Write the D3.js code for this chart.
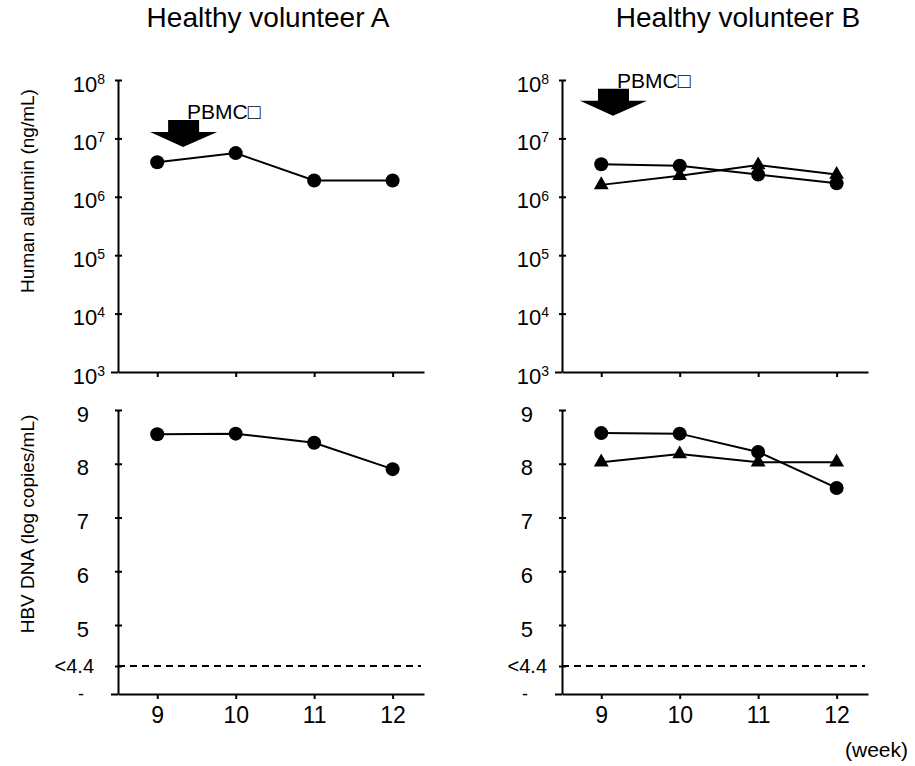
<!DOCTYPE html>
<html>
<head>
<meta charset="utf-8">
<script src="https://cdn.jsdelivr.net/npm/d3@7"></script>
<style>
  html, body { margin: 0; padding: 0; background: #fff; }
  svg { display: block; font-family: Arial, "Liberation Sans", sans-serif; }
</style>
</head>
<body>
<svg id="chart" width="915" height="766"></svg>
<script>
// Sampling weeks
const weeks = [9, 10, 11, 12];

// Human albumin (ng/mL), log scale
const albuminA_circle = [3.9e6, 5.6e6, 1.9e6, 1.9e6];
const albuminB_circle = [3.6e6, 3.4e6, 2.4e6, 1.7e6];
const albuminB_triangle = [1.6e6, 2.3e6, 3.5e6, 2.4e6];

// HBV DNA (log copies/mL)
const hbvA_circle = [8.55, 8.56, 8.39, 7.90];
const hbvB_circle = [8.57, 8.56, 8.22, 7.55];
const hbvB_triangle = [8.03, 8.18, 8.03, 8.03];

// Axis ticks
const albuminTicks = [3, 4, 5, 6, 7, 8];           // exponents of 10
const hbvTicks = [9, 8, 7, 6, 5, 4.4, 4.0];
const hbvTickLabels = ["9", "8", "7", "6", "5", "<4.4", "-"];
const detectionLimit = 4.4;

// PBMC infusion marker: [week, albumin level at arrow tip]
const pbmcA = [9.33, 7.1e6];
const pbmcB = [9.15, 2.45e7];

const svg = d3.select("#chart");

const panels = [
  { title: "Healthy volunteer A", left: 118, right: 424, titleX: 268,
    albumin: [{ type: "circle", values: albuminA_circle }],
    hbv: [{ type: "circle", values: hbvA_circle }],
    pbmc: pbmcA },
  { title: "Healthy volunteer B", left: 562, right: 868, titleX: 738,
    albumin: [{ type: "circle", values: albuminB_circle }, { type: "triangle", values: albuminB_triangle }],
    hbv: [{ type: "circle", values: hbvB_circle }, { type: "triangle", values: hbvB_triangle }],
    pbmc: pbmcB }
];

const topY = { top: 80, bottom: 372 };
const botY = { top: 410, bottom: 694 };

const tickFont = 22;

function drawMarkers(g, data, x, y) {
  const line = d3.line().x((d, i) => x(weeks[i])).y(d => y(d));
  data.forEach(s => {
    g.append("path").attr("d", line(s.values))
      .attr("fill", "none").attr("stroke", "#000").attr("stroke-width", 2);
  });
  data.forEach(s => {
    if (s.type === "circle") {
      g.selectAll(null).data(s.values).enter().append("circle")
        .attr("cx", (d, i) => x(weeks[i])).attr("cy", d => y(d))
        .attr("r", 7).attr("fill", "#000");
    } else {
      g.selectAll(null).data(s.values).enter().append("path")
        .attr("d", d3.symbol().type(d3.symbolTriangle).size(95))
        .attr("transform", (d, i) => `translate(${x(weeks[i])},${y(d)})`)
        .attr("fill", "#000");
    }
  });
}

panels.forEach((p, pi) => {
  const x = d3.scaleLinear().domain([8.5, 12.4]).range([p.left, p.right]);
  const yAlb = d3.scaleLog().domain([1e3, 1e8]).range([topY.bottom, topY.top]);
  const yHbv = d3.scaleLinear().domain([4.0, 4.4, 5, 9]).range([botY.bottom, 666, 625, botY.top]);

  // Title
  svg.append("text").attr("x", p.titleX).attr("y", 27)
    .attr("text-anchor", "middle").attr("font-size", 28).text(p.title);

  // ---- Albumin panel ----
  const gA = svg.append("g");
  const axL = gA.append("g").attr("transform", `translate(${p.left},0)`)
    .call(d3.axisLeft(yAlb).tickValues(albuminTicks.map(e => Math.pow(10, e)))
      .tickSizeInner(7).tickSizeOuter(0).tickFormat(""));
  axL.select(".domain").attr("stroke-width", 2);
  axL.selectAll(".tick line").attr("x2", d => d === 1e3 ? -7 : -3).attr("x1", d => d === 1e3 ? 0 : 4).attr("stroke-width", 2);
  axL.selectAll(".tick").each(function (d) {
    const t = d3.select(this).append("text")
      .attr("x", -13).attr("y", 0).attr("dy", "0.5em")
      .attr("text-anchor", "end").attr("fill", "#000")
      .attr("font-size", tickFont);
    t.append("tspan").text("10");
    t.append("tspan").attr("dy", "-0.55em").attr("font-size", 14).text(Math.round(Math.log10(d)));
  });

  const axB = gA.append("g").attr("transform", `translate(0,${topY.bottom})`)
    .call(d3.axisBottom(x).tickValues(weeks).tickSizeInner(5).tickSizeOuter(0).tickFormat(""));
  axB.select(".domain").attr("stroke-width", 2);
  axB.selectAll(".tick line").attr("stroke-width", 2);

  drawMarkers(gA, p.albumin, x, yAlb);

  // PBMC infusion arrow
  const ax = x(p.pbmc[0]), ay = yAlb(p.pbmc[1]);
  const arrow = d3.path();
  arrow.moveTo(ax, ay);
  arrow.lineTo(ax - 33, ay - 15);
  arrow.lineTo(ax - 15, ay - 15);
  arrow.lineTo(ax - 15, ay - 27);
  arrow.lineTo(ax + 16, ay - 27);
  arrow.lineTo(ax + 16, ay - 15);
  arrow.lineTo(ax + 34, ay - 15);
  arrow.closePath();
  gA.append("path").attr("d", arrow.toString()).attr("fill", "#000");
  gA.append("text").attr("x", ax + 4).attr("y", ay - 28)
    .attr("font-size", 21).text("PBMC\u25A1");

  // ---- HBV DNA panel ----
  const gH = svg.append("g");
  const axL2 = gH.append("g").attr("transform", `translate(${p.left},0)`)
    .call(d3.axisLeft(yHbv).tickValues(hbvTicks).tickSizeInner(7).tickSizeOuter(0).tickFormat(""));
  axL2.select(".domain").attr("stroke-width", 2);
  axL2.selectAll(".tick line").attr("x2", d => d === 4.0 ? -7 : -3).attr("x1", d => d === 4.0 ? 0 : 4).attr("stroke-width", 2);
  axL2.selectAll(".tick").append("text")
    .attr("x", (d) => d === 4.4 ? (pi === 0 ? -24 : -15) : (d === 4.0 ? -34 : -29))
    .attr("dy", d => d === 4.0 ? "0.3em" : (d === 4.4 ? "0.32em" : "0.5em"))
    .attr("text-anchor", "end").attr("fill", "#000")
    .attr("font-size", d => d === 4.4 ? 20 : (d === 4.0 ? 18 : tickFont))
    .text((d, i) => hbvTickLabels[i]);

  const axB2 = gH.append("g").attr("transform", `translate(0,${botY.bottom})`)
    .call(d3.axisBottom(x).tickValues(weeks).tickSizeInner(5).tickSizeOuter(0)
      .tickPadding(8).tickFormat(d3.format("d")));
  axB2.select(".domain").attr("stroke-width", 2);
  axB2.selectAll(".tick line").attr("stroke-width", 2);
  axB2.selectAll(".tick text").attr("font-size", 23).attr("font-family", null).attr("fill", "#000");

  // Detection limit
  gH.append("line")
    .attr("x1", p.left).attr("x2", p.right - 3)
    .attr("y1", yHbv(detectionLimit)).attr("y2", yHbv(detectionLimit))
    .attr("stroke", "#000").attr("stroke-width", 2).attr("stroke-dasharray", "7,5");

  drawMarkers(gH, p.hbv, x, yHbv);
});

// Axis titles
svg.append("text").attr("transform", "translate(34,191) rotate(-90)")
  .attr("text-anchor", "middle").attr("font-size", 19).text("Human albumin (ng/mL)");
svg.append("text").attr("transform", "translate(34,524) rotate(-90)")
  .attr("text-anchor", "middle").attr("font-size", 19).text("HBV DNA (log copies/mL)");

svg.append("text").attr("x", 908).attr("y", 757).attr("text-anchor", "end")
  .attr("font-size", 21).text("(week)");
</script>
</body>
</html>
